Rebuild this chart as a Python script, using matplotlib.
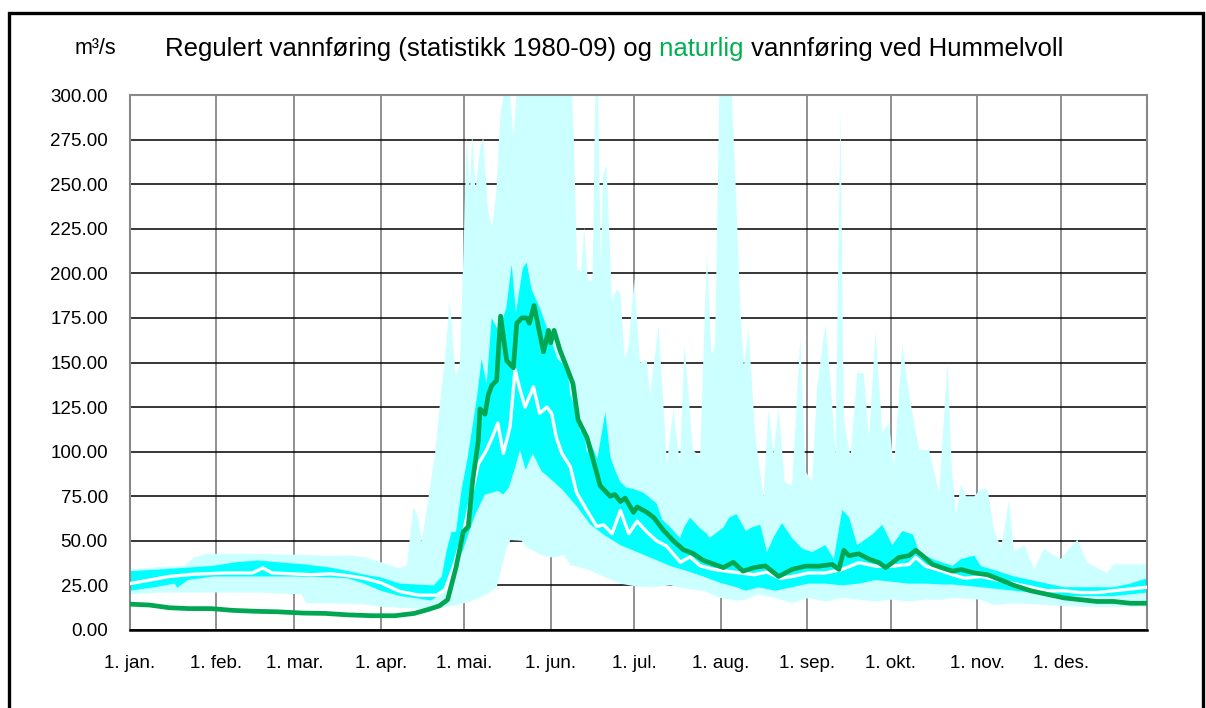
import numpy as np
import matplotlib.pyplot as plt
from matplotlib.patches import Rectangle

plt.rcParams['font.family'] = ['Liberation Sans', 'DejaVu Sans']

# dag i året (0 = 1. jan.) og vannføring i m3/s, lest av figuren
month_days = [0, 31, 59, 90, 120, 151, 181, 212, 243, 273, 304, 334]
month_labels = ['1. jan.', '1. feb.', '1. mar.', '1. apr.', '1. mai.', '1. jun.',
                '1. jul.', '1. aug.', '1. sep.', '1. okt.', '1. nov.', '1. des.']
y_ticks = [0, 25, 50, 75, 100, 125, 150, 175, 200, 225, 250, 275, 300]

# maks (lys blå, øvre kant)
max_days = [0, 11, 19.6, 23, 27.7, 46, 65, 72, 79.6, 84.4, 90.4, 96.3, 99.3, 101.7, 103.5,
            104.7, 107, 109.5, 111.3, 113, 114.8, 116.9, 118.4, 119.6, 120.8, 122, 122.8,
            124, 125.6, 126.8, 128.5, 130, 131.5, 132.8, 134, 136.4, 137.6, 138.7, 158.7,
            159.3, 160.5, 162, 163, 164.3, 166, 167, 168, 169, 169.8, 171, 173, 174.8, 176,
            177.5, 179, 181, 183, 185.5, 186.7, 189.7, 192.7, 195, 197.4, 199, 202, 204.6,
            207, 208.7, 210, 211.5, 216, 217.5, 219, 220.3, 222, 224.4, 227.4, 229.2, 231,
            232.8, 235, 237.6, 240.6, 242.4, 244.8, 246.6, 249.6, 251.4, 253.2, 255, 256.2,
            258.6, 261, 263.4, 265.2, 267.6, 270, 272.4, 274.2, 277.2, 279.6, 283.2, 286.8,
            290.4, 293.4, 295, 296.5, 298.3, 300, 303, 305.4, 307.8, 310, 312.6, 315.5,
            317.3, 321, 324.5, 328, 331.6, 334, 340, 343.5, 350.7, 353, 365]
max_vals = [34, 35.4, 36, 40.7, 42.7, 42.7, 42, 41.5, 41.7, 40.7, 37.8, 34.8, 35.8, 69, 63,
            49.6, 73, 99, 128, 152, 185, 142, 150, 207, 276, 246, 279,
            246, 270, 276, 235, 226, 246, 286, 300, 300, 276, 300, 300,
            275, 202, 201, 226, 196, 196, 300, 300, 204, 255, 261, 185, 191, 189,
            152, 160, 197, 150, 151, 132, 171, 93, 124, 93, 160, 101, 97,
            211, 154, 159, 300, 300, 245, 182, 148, 168, 109, 75, 124, 99,
            124, 83, 81, 164, 89, 83, 136, 172, 140, 99, 292, 118.5,
            97, 144, 144, 107, 168, 111, 116, 91, 160, 132, 101, 101,
            77, 150, 89, 65, 82, 75, 75, 79, 79, 57, 46, 73,
            44, 47.6, 34, 45.7, 41.7, 39.8, 50.6, 37.8, 32, 36.8, 36.8]

# min (lys blå, nedre kant)
min_days = [0, 11, 23, 46, 61.6, 63.3, 72, 84, 90, 102, 110, 117.8, 123.8, 128, 131.6,
            133.4, 135, 136.5, 140.6, 142, 147.7, 152, 155.6, 158, 164, 170, 176, 182, 188,
            194, 200, 205.8, 211.7, 217.7, 221, 225.6, 231.6, 237.6, 243.6, 249.6, 255.6,
            261.6, 267.6, 273.6, 279.6, 285.6, 291.6, 295.2, 305.4, 310, 317.3, 329, 341, 365]
min_vals = [20, 21, 21, 21, 20, 15, 15, 14.5, 13, 12, 12, 14, 17, 20, 24,
            35, 45, 50.5, 50, 46.7, 42, 40.5, 42, 36.5, 34, 30, 26, 24.3, 24,
            25, 23, 22, 18, 16.5, 17, 20, 18, 15, 18, 16, 18,
            17, 16, 17, 16, 17, 17, 18, 17, 14, 15, 14, 13, 13]

# øvre kvartil (cyan, øvre kant)
q75_days = [0, 11, 21, 30, 38, 46, 54.5, 62.7, 72, 78.4, 84.4, 90, 97, 103, 109, 111.9,
            113.7, 115.4, 117, 119, 121, 122.5, 124.4, 126.2, 128, 129.8, 132.2, 135, 137,
            138.5, 141, 142.4, 144.1, 147, 150, 153.4, 157, 158, 160, 161.7, 162.7, 164,
            165.3, 167.7, 170.6, 172.4, 174, 176, 178, 180.8, 184.3, 189, 191, 194, 197.4,
            199, 201, 204.6, 207, 208, 213, 215, 217.7, 221, 223.2, 226.2, 228.6, 231, 234,
            237.6, 241.2, 244.8, 249.6, 252.6, 255.6, 258, 261, 266.4, 270, 273.6, 277.2,
            281, 283.2, 288, 291.6, 295.2, 298.3, 303, 305.4, 311.4, 317.3, 323.3, 329.2,
            335.2, 353, 359, 365]
q75_vals = [33, 34, 35, 36, 38, 39, 37.8, 36.8, 35, 33, 31, 29.5, 26, 25.5, 25, 30,
            45, 55, 55, 79, 95, 110, 129, 152, 138, 175, 168, 180, 205,
            178, 203, 206, 191, 181, 168, 152, 147, 132, 123, 111, 114, 99,
            105, 96, 122, 97, 90, 83, 80, 79, 77, 71, 62, 57.5, 51.6,
            58, 63, 57, 54, 51.6, 57.5, 63, 65, 55.5, 57.5, 59, 43.7, 52, 60,
            51.6, 45.7, 43.7, 47.6, 39.8, 67.3, 63.4, 47.6, 53.5, 59, 47.6, 55.5,
            53.5, 43.7, 39.8, 37.8, 36, 39.8, 41.7, 35.8, 33, 30, 28, 26,
            24, 24, 26, 29]

# nedre kvartil (cyan, nedre kant)
q25_days = [0, 9, 16, 17, 20.7, 30, 46, 58, 72, 78, 84, 90, 97, 104, 108, 112, 116,
            119.6, 121.5, 124, 127.4, 130, 132, 134, 136, 138, 140, 142, 144.5, 147.7, 150,
            155, 160.5, 165.3, 170, 176, 182, 188, 194, 200, 205.8, 211.7, 217.7, 221,
            225.6, 231.6, 237.6, 243.6, 249.6, 255.6, 261.6, 267.6, 273.6, 279.6, 285.6,
            291.6, 295.2, 305.4, 311.4, 317.3, 323.3, 329.2, 335.2, 353, 359, 365]
q25_vals = [22, 24, 26, 23.6, 28, 30, 30, 30, 29.5, 29, 26, 22, 19, 17.5, 16.5, 20.5, 34,
            45, 54, 65, 76, 77, 78, 76, 80, 90, 101, 89.7, 99, 89, 86,
            79, 69, 59, 53.5, 47.6, 43.7, 39.8, 35.8, 33, 30, 26.5, 24, 22,
            24, 22, 24, 26, 26, 25, 26, 28, 27, 26, 26,
            25.5, 25.5, 24, 23, 22, 21, 20, 19, 19, 20, 21]

# median (hvit linje)
med_days = [0, 7, 14, 23, 35, 44, 47.6, 51, 58, 65, 72, 78, 84, 90, 97, 104, 110, 113,
            116, 119.6, 122.6, 125, 128, 130, 132, 134, 136.4, 138.2, 140, 141.8, 144.8,
            147, 149.6, 151.3, 153, 155, 158, 160.3, 164, 167.5, 170, 173, 176, 179, 182,
            185.5, 189, 192.6, 197.5, 201, 204.6, 209.4, 214, 219, 224, 228.5, 233.3,
            237.6, 243.6, 249.6, 255.6, 261.6, 267.6, 273.6, 279.6, 282, 285.6, 291.6,
            295.2, 299.5, 305.4, 311.4, 317.3, 323.3, 329.2, 335.2, 341.1, 347, 353, 359, 365]
med_vals = [26, 28, 30, 31.3, 32, 32, 34.8, 32, 31.5, 31, 31.5, 30.5, 29, 26.5, 21.5, 19.5,
            19.5, 22.5, 35, 54, 76, 93, 101, 108, 116, 99, 114, 146, 134.6, 125, 136.4,
            121.5, 125, 121.5, 108, 99, 91.6, 77, 67, 58, 59, 54, 67, 54, 61,
            55, 50, 47, 38, 41, 36, 34, 33, 32, 31, 32.5, 29,
            30, 32, 32, 34, 37.8, 35.8, 35.8, 36.8, 40.7, 35.8, 33,
            31, 29, 30, 28, 26, 24, 22, 22, 21, 21, 22, 23, 24]

# naturlig vannføring (grønn linje)
nat_days = [0, 7, 14, 21, 29, 37, 45, 53, 62, 70, 78, 87, 95, 102, 107, 111, 114, 117,
            119.6, 121.4, 123, 125, 125.6, 127.4, 128.6, 129.8, 131.6, 133, 135.2, 137.6,
            138.8, 140.6, 142.4, 143.3, 145, 148.4, 150.2, 151, 152.2, 154.3, 157.3, 159,
            160.8, 164, 166.3, 168.7, 172.3, 174, 176, 177.7, 180.7, 182, 185.5, 188,
            191.4, 195, 198.6, 202, 205.8, 209.4, 213, 216.5, 220, 224, 228, 232.8, 237.6,
            242.4, 247.2, 252, 254.4, 256.2, 258, 261.6, 265.2, 268.8, 271.2, 273.6, 276,
            279.6, 282, 284.4, 288, 291.6, 295.2, 298.3, 303, 307.8, 312.6, 317.3, 323.3,
            329.2, 335.2, 341.1, 347, 353, 359, 365]
nat_vals = [14.5, 14, 12.5, 12, 12, 11, 10.5, 10.2, 9.5, 9.3, 8.5, 8, 8, 9.3, 11.5, 13.5,
            17, 35, 55, 58, 84, 106, 124, 121, 132, 137, 140, 176, 151, 147,
            172, 175, 175, 172, 182, 156, 168, 161, 168, 157, 145, 138,
            118, 108, 95, 81, 75, 76, 72, 74, 66, 69, 66, 63,
            56, 50, 45, 43, 39, 37, 35, 38, 33, 35, 36, 30, 34,
            35.8, 35.8, 36.8, 34, 44.7, 41.7, 42.7, 39.8, 37.8, 35, 37.8, 40.7,
            41.7, 44.7, 41.7, 36.8, 34.8, 33, 33.9, 32, 31, 28, 25, 22,
            20, 18, 17, 16, 16, 15, 15]

W, H = 1206, 708
fig = plt.figure(figsize=(W / 100, H / 100), dpi=100)
ax = fig.add_axes([130 / W, 1 - 630 / H, (1147 - 130) / W, (630 - 95) / H])

ax.fill(np.r_[max_days, min_days[::-1]], np.r_[max_vals, min_vals[::-1]],
        color='#CCFFFF', lw=0, zorder=1)
ax.fill(np.r_[q75_days, q25_days[::-1]], np.r_[q75_vals, q25_vals[::-1]],
        color='#00FFFF', lw=0, zorder=2)
ax.plot(med_days, med_vals, color='white', lw=2.4, zorder=3)
ax.plot(nat_days, nat_vals, color='#00A651', lw=3.4, zorder=4, solid_joinstyle='round')

ax.set_xlim(0, 365)
ax.set_ylim(0, 300)
ax.set_xticks(month_days)
ax.set_xticklabels(month_labels)
ax.set_yticks(y_ticks)
ax.set_yticklabels(['%.2f' % v for v in y_ticks])
ax.tick_params(length=0, labelsize=13.5)
ax.tick_params(axis='y', pad=16)
ax.tick_params(axis='x', pad=18)

ax.set_axisbelow(True)
ax.grid(axis='y', color='black', lw=1.1)
ax.grid(axis='x', color='#888888', lw=1.3)
for side in ['left', 'top', 'right']:
    ax.spines[side].set_color('#888888')
    ax.spines[side].set_linewidth(1.5)
ax.spines['bottom'].set_color('black')
ax.spines['bottom'].set_linewidth(1.8)

# ramme rundt figuren
fig.patches.append(Rectangle((9 / W, -0.1), (1203 - 9) / W, 1.1 - 13 / H,
                             transform=fig.transFigure, fill=False,
                             edgecolor='black', lw=2.4))

# tittel, med "naturlig" i grønt
ty = 1 - 49 / H
fig.text(95 / W, ty, 'm³/s', fontsize=15.5, ha='center', va='center')
parts = [('Regulert vannføring (statistikk 1980-09) og', 'black'),
         (' naturlig', '#00B050'),
         (' vannføring ved Hummelvoll', 'black')]
x = 165 / W
fig.canvas.draw()
for txt, col in parts:
    t = fig.text(x, ty, txt, fontsize=18.5, color=col, ha='left', va='center')
    fig.canvas.draw()
    x = t.get_window_extent().x1 / W

fig.savefig('out.png', dpi=100)
